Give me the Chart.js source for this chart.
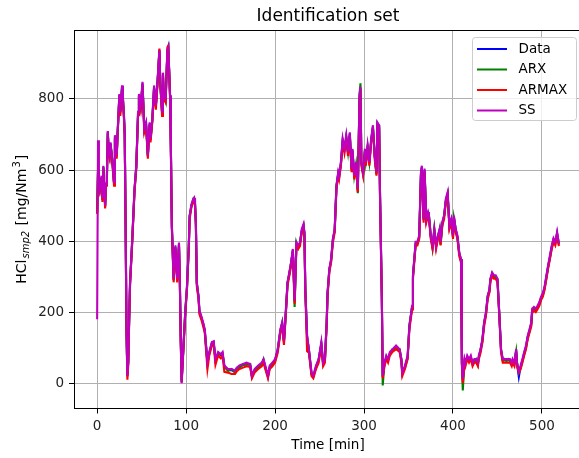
<!DOCTYPE html>
<html lang="en">
<head>
  <meta charset="UTF-8" />
  <title>Identification set</title>
  <script src="https://cdn.jsdelivr.net/npm/chart.js"></script>
  <style>
    html, body {
      margin: 0;
      padding: 0;
      background: white;
      overflow: hidden;
    }
    #chart {
      display: block;
    }
  </style>
</head>
<body>
  <canvas id="chart" width="584" height="458"></canvas>

  <script>
    // time axis in minutes, shared by all four series
    const timeMin = [
      0,1,2,3,5,6,7,9,10,11,
      12,13,14,15,17,19,20,22,23,25,
      26,28,29,30,31,32,33,34,35,36,
      37,39,40,42,44,46,47,49,51,52,
      53,55,57,59,60,62,64,66,68,70,
      71,73,74,75,77,79,80,82,83,84,
      86,88,90,92,93,94,95,97,99,101,
      103,104,106,108,109,110,111,112,114,115,
      117,119,121,124,126,129,131,133,136,139,
      141,143,147,151,155,157,160,164,168,172,
      174,177,181,185,187,189,192,194,197,200,
      203,206,208,210,212,214,216,218,220,222,
      224,226,228,230,232,233,234,236,238,241,
      243,246,249,252,254,256,258,259,261,263,
      265,267,269,271,272,274,276,278,280,282,
      284,286,287,289,291,293,295,296,297,299,
      301,302,304,306,308,310,312,314,315,317,
      318,320,321,323,325,327,329,332,336,340,
      342,343,346,349,351,354,355,358,360,362,
      364,365,367,368,370,372,373,375,377,379,
      381,383,385,386,388,390,392,394,396,398,
      400,401,403,405,407,409,410,411,413,414,
      416,418,420,422,424,426,428,429,431,433,
      435,437,439,441,442,444,446,448,450,452,
      454,456,458,460,462,464,466,467,469,471,
      472,474,476,478,480,482,484,486,488,489,
      491,493,495,497,499,501,503,505,507,509,
      511,513,515,517,519
    ];

    const measured = [
      480,600,560,544,581,515,609,497,560,581,
      708,650,638,675,628,562,694,638,703,811,
      760,835,800,760,700,450,150,20,60,180,
      281,380,431,544,609,760,811,778,844,778,
      713,731,638,731,684,741,835,778,853,938,
      844,760,872,806,797,938,947,806,638,440,
      290,384,290,393,281,120,4,102,196,271,
      384,469,501,515,520,506,450,281,243,200,
      187,168,149,55,84,112,116,65,84,79,
      84,46,37,37,32,41,46,51,55,51,
      18,37,46,55,65,46,18,46,55,65,
      93,149,168,116,196,281,309,337,375,230,
      393,384,393,430,445,420,262,131,93,27,
      18,46,65,112,55,65,168,253,318,347,
      403,431,553,591,581,619,684,656,694,647,
      703,600,656,581,619,544,807,830,619,591,
      656,619,666,619,684,722,638,591,731,722,
      525,243,18,55,74,65,84,93,102,93,
      65,27,46,74,159,215,300,394,394,412,
      591,609,459,600,459,478,469,412,384,431,
      384,412,431,394,450,469,516,534,440,459,
      412,469,431,412,365,347,55,8,65,55,
      74,65,74,55,65,65,55,74,93,121,
      168,196,243,262,290,309,300,300,290,196,
      93,65,65,65,65,65,55,65,55,93,
      55,18,46,65,84,102,131,149,168,206,
      210,206,215,224,240,250,270,300,330,356,
      384,405,394,422,390
    ];

    const arxModel = [
      482,598,556,546,578,518,606,500,558,584,
      704,652,640,672,630,566,690,640,700,806,
      764,830,802,756,704,455,155,25,62,176,
      285,376,434,540,612,756,808,780,840,782,
      716,728,642,728,688,738,830,782,850,932,
      848,764,866,810,793,934,942,810,642,446,
      294,380,294,389,285,126,10,98,200,268,
      380,472,498,518,516,508,446,285,240,204,
      184,170,146,58,82,114,113,68,82,82,
      82,49,35,40,30,43,44,53,52,54,
      21,35,48,52,67,44,21,44,57,62,
      96,146,170,119,193,284,306,340,372,215,
      396,381,396,427,442,423,266,128,96,24,
      21,43,68,109,58,62,172,250,321,344,
      406,428,556,588,584,616,680,660,690,650,
      700,604,652,584,616,535,815,844,622,588,
      652,622,662,622,680,718,642,588,728,725,
      530,247,-6,58,71,68,81,96,99,96,
      68,30,44,71,163,212,304,390,397,409,
      588,605,463,596,463,475,472,416,380,434,
      388,409,434,390,446,472,512,530,444,455,
      416,465,435,409,369,343,60,-20,62,58,
      71,68,71,58,62,68,52,71,96,118,
      172,193,246,259,293,306,303,297,293,199,
      96,62,68,62,68,62,58,62,58,90,
      58,30,43,62,81,99,128,146,165,203,
      213,203,212,221,237,247,267,297,327,353,
      381,402,397,419,393
    ];

    const armaxModel = [
      476,596,552,540,576,510,604,492,556,576,
      702,646,634,670,622,556,688,632,698,806,
      752,826,790,752,694,444,142,10,52,172,
      276,374,426,538,604,754,804,772,838,772,
      706,724,632,724,678,734,828,770,846,942,
      838,752,866,798,790,946,950,798,630,434,
      284,378,284,386,276,112,2,96,190,266,
      378,462,496,510,514,500,444,274,236,194,
      180,162,142,40,78,106,110,52,78,70,
      78,32,30,26,26,34,40,44,48,46,
      14,30,40,48,58,40,14,40,48,58,
      86,142,160,108,190,274,302,330,368,224,
      386,378,386,424,440,414,256,90,86,20,
      14,40,58,106,48,58,160,246,312,340,
      396,424,546,586,574,612,676,648,688,640,
      696,594,650,574,612,538,800,826,612,584,
      650,612,660,612,678,716,630,584,724,716,
      518,236,14,48,68,58,78,88,96,88,
      58,20,40,68,152,208,294,388,388,406,
      584,602,452,594,452,472,462,406,378,424,
      378,406,424,388,444,462,510,528,434,452,
      406,462,424,406,358,340,48,0,58,48,
      68,58,68,48,58,58,48,68,86,114,
      160,190,236,256,284,302,294,294,284,190,
      86,58,58,58,58,58,48,58,48,86,
      48,30,40,58,78,96,124,142,160,198,
      204,200,208,218,234,244,264,294,324,350,
      378,398,388,416,386
    ];

    const ssModel = [
      180,684,562,546,584,520,612,500,562,584,
      710,654,640,678,632,566,698,642,706,814,
      764,838,804,764,704,456,154,22,64,184,
      284,384,436,548,612,764,814,782,848,782,
      716,734,642,734,688,744,838,782,856,936,
      846,764,874,810,800,936,944,810,642,444,
      294,388,294,396,284,124,0,106,200,274,
      388,472,504,518,522,508,454,284,246,204,
      190,172,152,60,88,116,118,68,88,82,
      88,50,40,40,36,44,50,54,58,54,
      22,40,50,58,68,50,22,50,58,68,
      96,152,172,120,200,284,312,340,378,234,
      396,388,396,434,448,424,266,134,96,30,
      22,50,68,116,58,68,172,256,322,350,
      406,434,556,594,584,622,688,660,698,650,
      706,604,660,584,622,548,810,834,622,594,
      660,622,670,622,688,726,642,594,734,726,
      528,246,22,58,78,68,88,96,106,96,
      68,30,50,78,162,218,304,398,398,416,
      594,612,462,604,462,482,472,416,388,434,
      388,416,434,398,454,472,520,538,444,462,
      416,472,434,416,368,350,58,12,68,58,
      78,68,78,58,68,68,58,78,96,124,
      172,200,246,266,294,312,304,304,294,200,
      96,68,68,68,68,68,58,68,58,96,
      58,34,50,68,88,106,134,152,172,210,
      214,210,218,228,244,254,274,304,334,360,
      388,408,398,426,394
    ];

    const seriesNames = ['Data', 'ARX', 'ARMAX', 'SS'];
    const seriesColors = ['#0000ff', '#008000', '#ff0000', '#bf00bf'];
    const xTicks = [0, 100, 200, 300, 400, 500];
    const yTicks = [0, 200, 400, 600, 800];

    const FONT = "'DejaVu Sans', sans-serif";
    const allSeries = [measured, arxModel, armaxModel, ssModel];

    const datasets = allSeries.map((vals, i) => ({
      label: seriesNames[i],
      data: timeMin.map((t, k) => ({ x: t, y: vals[k] })),
      borderColor: seriesColors[i],
      backgroundColor: seriesColors[i],
      borderWidth: 2.1,
      pointRadius: 0,
      tension: 0,
      fill: false,
      order: 3 - i   // SS on top, Data at the bottom
    }));

    // title, axis labels, top spine and legend box
    const decor = {
      id: 'decor',
      afterDraw(chart) {
        const c = chart.ctx;
        const a = chart.chartArea;
        c.save();

        c.strokeStyle = '#000';
        c.lineWidth = 1;
        c.beginPath();
        c.moveTo(a.left, a.top + 0.5);
        c.lineTo(a.right, a.top + 0.5);
        c.stroke();

        const midX = (a.left + a.right) / 2;
        c.fillStyle = '#000';
        c.textAlign = 'center';
        c.textBaseline = 'alphabetic';
        c.font = '17px ' + FONT;
        c.fillText('Identification set', midX, 21);

        c.font = '13.5px ' + FONT;
        c.textBaseline = 'middle';
        c.fillText('Time [min]', midX, 445);

        // y label with subscript / superscript
        const parts = [
          { t: 'HCl', f: '14px ' + FONT, dy: 0, gap: 1 },
          { t: 'smp2', f: 'italic 10px ' + FONT, dy: 3, gap: 1 },
          { t: ' [mg/Nm', f: '14px ' + FONT, dy: 0, gap: 1 },
          { t: '3', f: '10px ' + FONT, dy: -6, gap: 1 },
          { t: ']', f: '14px ' + FONT, dy: 0, gap: 0 }
        ];
        let total = 0;
        parts.forEach(p => { c.font = p.f; p.w = c.measureText(p.t).width + p.gap; total += p.w; });
        c.translate(25.5, (a.top + a.bottom) / 2);
        c.rotate(-Math.PI / 2);
        c.textAlign = 'left';
        c.textBaseline = 'alphabetic';
        let px = -total / 2;
        parts.forEach(p => {
          c.font = p.f;
          c.fillText(p.t, px, p.dy);
          px += p.w;
        });
        c.setTransform(1, 0, 0, 1, 0, 0);

        // legend
        const lx = 472.5, ly = 37.5, lw = 104, lh = 83;
        c.fillStyle = 'rgba(255,255,255,0.8)';
        c.strokeStyle = '#cccccc';
        c.lineWidth = 1;
        c.beginPath();
        c.roundRect(lx, ly, lw, lh, 3);
        c.fill();
        c.stroke();
        c.font = '13.5px ' + FONT;
        c.textAlign = 'left';
        c.textBaseline = 'middle';
        seriesNames.forEach((name, i) => {
          const y = 49 + i * 20.5;
          c.strokeStyle = seriesColors[i];
          c.lineWidth = 2;
          c.beginPath();
          c.moveTo(477, y);
          c.lineTo(507, y);
          c.stroke();
          c.fillStyle = '#000';
          c.fillText(name, 518.5, y);
        });
        c.restore();
      }
    };

    new Chart(document.getElementById('chart').getContext('2d'), {
      type: 'line',
      data: { datasets },
      options: {
        responsive: false,
        animation: false,
        layout: { padding: { top: 30, right: 2, left: 0, bottom: 0 } },
        plugins: {
          legend: { display: false },
          title: { display: false },
          tooltip: { enabled: false }
        },
        scales: {
          x: {
            type: 'linear',
            min: -26,
            max: 545,
            afterBuildTicks: axis => { axis.ticks = xTicks.map(v => ({ value: v })); },
            afterFit: axis => { axis.height = 49.5; },
            grid: { color: '#b0b0b0', lineWidth: 1, tickColor: '#000', tickLength: 5, drawTicks: true },
            border: { display: true, color: '#000', width: 1 },
            ticks: { color: '#222', padding: 5, maxRotation: 0, font: { family: FONT, size: 13.5 } }
          },
          y: {
            type: 'linear',
            min: -71,
            max: 994,
            afterBuildTicks: axis => { axis.ticks = yTicks.map(v => ({ value: v })); },
            afterFit: axis => { axis.width = 74; },
            grid: { color: '#b0b0b0', lineWidth: 1, tickColor: '#000', tickLength: 5, drawTicks: true },
            border: { display: true, color: '#000', width: 1 },
            ticks: { color: '#222', padding: 5, font: { family: FONT, size: 13.5 } }
          }
        }
      },
      plugins: [decor]
    });
  </script>
</body>
</html>
